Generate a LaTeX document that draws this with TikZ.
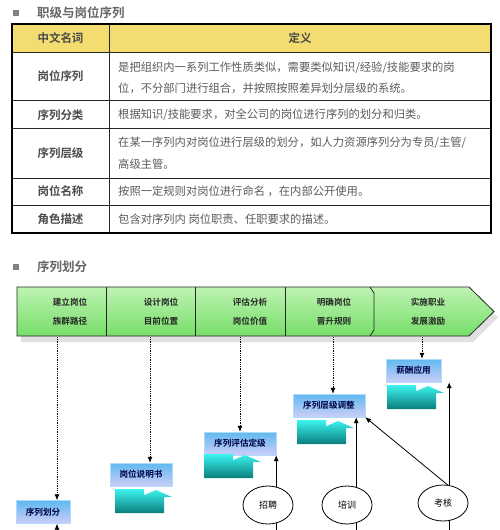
\documentclass[tikz,border=0pt]{standalone}
\usepackage{fontspec}
\setmainfont{Noto Sans CJK SC}[BoldFont={Noto Sans CJK SC Bold}]
\usetikzlibrary{shapes.geometric,arrows.meta}
\definecolor{hdyellow}{RGB}{244,221,112}
\definecolor{txtgray}{RGB}{90,90,90}
\definecolor{keygray}{RGB}{75,75,75}
\definecolor{bargreen}{RGB}{118,222,105}
\definecolor{palegreen}{RGB}{190,243,178}
\definecolor{skyblue}{RGB}{95,185,240}
\definecolor{lavender}{RGB}{205,205,248}
\definecolor{tealdark}{RGB}{10,125,125}
\definecolor{cyanlight}{RGB}{60,245,240}
\tikzset{>={Latex[length=6pt,width=5pt]}}
\newcommand\bentarrow[2]{
    \shade[top color=cyanlight, bottom color=tealdark] (#1,#2) -- ++(49,0) -- ++(0,-16) -- ++(8,0)
        -- ++(-16,-7) -- ++(-16,7) -- ++(4,0) -- ++(0,-8) -- ++(-29,0) -- cycle;
}

\begin{document}
\begin{tikzpicture}[x=1pt,y=-1pt,
    keytext/.style={font=\bfseries\fontsize{11.5}{13}\selectfont, text=keygray, inner sep=0},
    deftext/.style={anchor=west, font=\fontsize{11.3}{13}\selectfont, text=txtgray, inner sep=0},
    steptext/.style={font=\bfseries\fontsize{8.6}{10}\selectfont, text=black!85, inner sep=0},
    bluebox/.style={top color=skyblue, bottom color=lavender, draw=skyblue!50, minimum height=23pt,
        inner sep=0, font=\bfseries\fontsize{8.6}{10}\selectfont, text=blue!25!black},
    oval/.style={ellipse, draw, thick, fill=white, minimum width=50pt, minimum height=38pt,
        inner sep=0, font=\fontsize{9}{10}\selectfont},
    dotarrow/.style={->, densely dotted, thick}]
    \useasboundingbox (0,0) rectangle (500,530);
    \clip (0,0) rectangle (500,530);

    % table of terms
    \fill[black!50] (13,10) rectangle (19,16);
    \node[anchor=west, inner sep=0, font=\bfseries\fontsize{12.5}{14}\selectfont, text=black!60] (title1) at (37,13) {职级与岗位序列};
    \fill[hdyellow] (12,24) rectangle (491,52);
    \foreach \y in {52,100,128,178,205}
        \draw[black!85] (12,\y) -- (491,\y);
    \draw[black!85] (109,24) -- (109,233);
    \draw[line width=1.6pt] (12,24) rectangle (491,233);
    \node[keytext] (hname) at (60.5,38) {中文名词};
    \node[keytext] (hdef) at (300,38) {定义};
    \foreach \y/\t in {76/岗位序列, 115/序列分类, 153/序列层级, 191/岗位名称, 219/角色描述}
        \node[keytext] (key\y) at (60.5,\y) {\t};
    \node[deftext] (def1a) at (118,68) {是把组织内一系列工作性质类似，需要类似知识/经验/技能要求的岗};
    \node[deftext] (def1b) at (118,88) {位，不分部门进行组合，并按照按照差异划分层级的系统。};
    \node[deftext] (def2) at (118,115) {根据知识/技能要求，对全公司的岗位进行序列的划分和归类。};
    \node[deftext] (def3a) at (118,143) {在某一序列内对岗位进行层级的划分，如人力资源序列分为专员/主管/};
    \node[deftext] (def3b) at (118,164) {高级主管。};
    \node[deftext] (def4) at (118,191) {按照一定规则对岗位进行命名 ，在内部公开使用。};
    \node[deftext] (def5) at (118,219) {包含对序列内 岗位职责、任职要求的描述。};

    % process band
    \fill[black!50] (13,264) rectangle (19,270);
    \node[anchor=west, inner sep=0, font=\bfseries\fontsize{12.5}{14}\selectfont, text=black!60] (title2) at (37,267) {序列划分};
    \fill[black!12] (21,293) -- (473,293) -- (498,317.5) -- (473,342) -- (21,342) -- cycle;
    \shadedraw[top color=palegreen, bottom color=bargreen, draw=black!85, thick]
        (17,287) -- (469,287) -- (494,311.5) -- (469,336) -- (17,336) -- cycle;
    \foreach \x in {106,195,285}
        \draw[black!85, thick] (\x,287) -- (\x,336);
    \draw[black!85, thick] (370,287) -- (374,293) -- (374,330) -- (370,336);
    \foreach \x/\a/\b in {70/建立岗位/族群路径, 161/设计岗位/目前位置, 250/评估分析/岗位价值,
                          334/明确岗位/晋升规则, 428/实施职业/发展激励} {
        \node[steptext] (up\x) at (\x,302) {\a};
        \node[steptext] (lo\x) at (\x,321) {\b};
    }
    \coordinate (s1) at (57,337);
    \coordinate (s2) at (150,337);
    \coordinate (s3) at (240,337);
    \coordinate (s4) at (333,337);
    \coordinate (s5) at (422,337);
    \coordinate (bot) at (0,545);

    % result boxes
    \node[bluebox, minimum width=54pt] (xlhf) at (43,512) {序列划分};
    \node[bluebox, minimum width=62pt] (gwsms) at (141,474.5) {岗位说明书};
    \node[bluebox, minimum width=72pt] (xlpg) at (240,443.5) {序列评估定级};
    \node[bluebox, minimum width=72pt] (xltz) at (329,405.5) {序列层级调整};
    \node[bluebox, minimum width=55pt] (xcyy) at (413.5,370.5) {薪酬应用};
    \bentarrow{115}{513}
    \bentarrow{204}{478}
    \bentarrow{297}{444}
    \bentarrow{387}{409}

    \draw[dotarrow] (s1) -- (s1 |- xlhf.north);
    \draw[dotarrow] (s2) -- (s2 |- gwsms.north);
    \draw[dotarrow] (s3) -- (s3 |- xlpg.north);
    \draw[dotarrow] (s4) -- (s4 |- xltz.north);
    \draw[dotarrow] (s5) -- (s5 |- xcyy.north);

    % inputs
    \coordinate (pxt) at ([xshift=-9pt]xltz.south east);
    \coordinate (kht) at ([xshift=8pt]xcyy.south east);
    \draw[->, thick] (s1 |- bot) -- (s1 |- xlhf.south);
    \draw[->, thick] (xlpg.south east |- bot) -- (xlpg.south east);
    \draw[->, thick] (pxt |- bot) -- (pxt);
    \draw[->, thick] (kht |- bot) -- (kht);
    \draw[->, thick] (449,486) -- (xltz.south east);
    \node[oval] (zp) at (268,505) {招聘};
    \node[oval] (px) at (347,505) {培训};
    \node[oval, minimum height=36pt] (kh) at (443,503) {考核};
\end{tikzpicture}
\end{document}
